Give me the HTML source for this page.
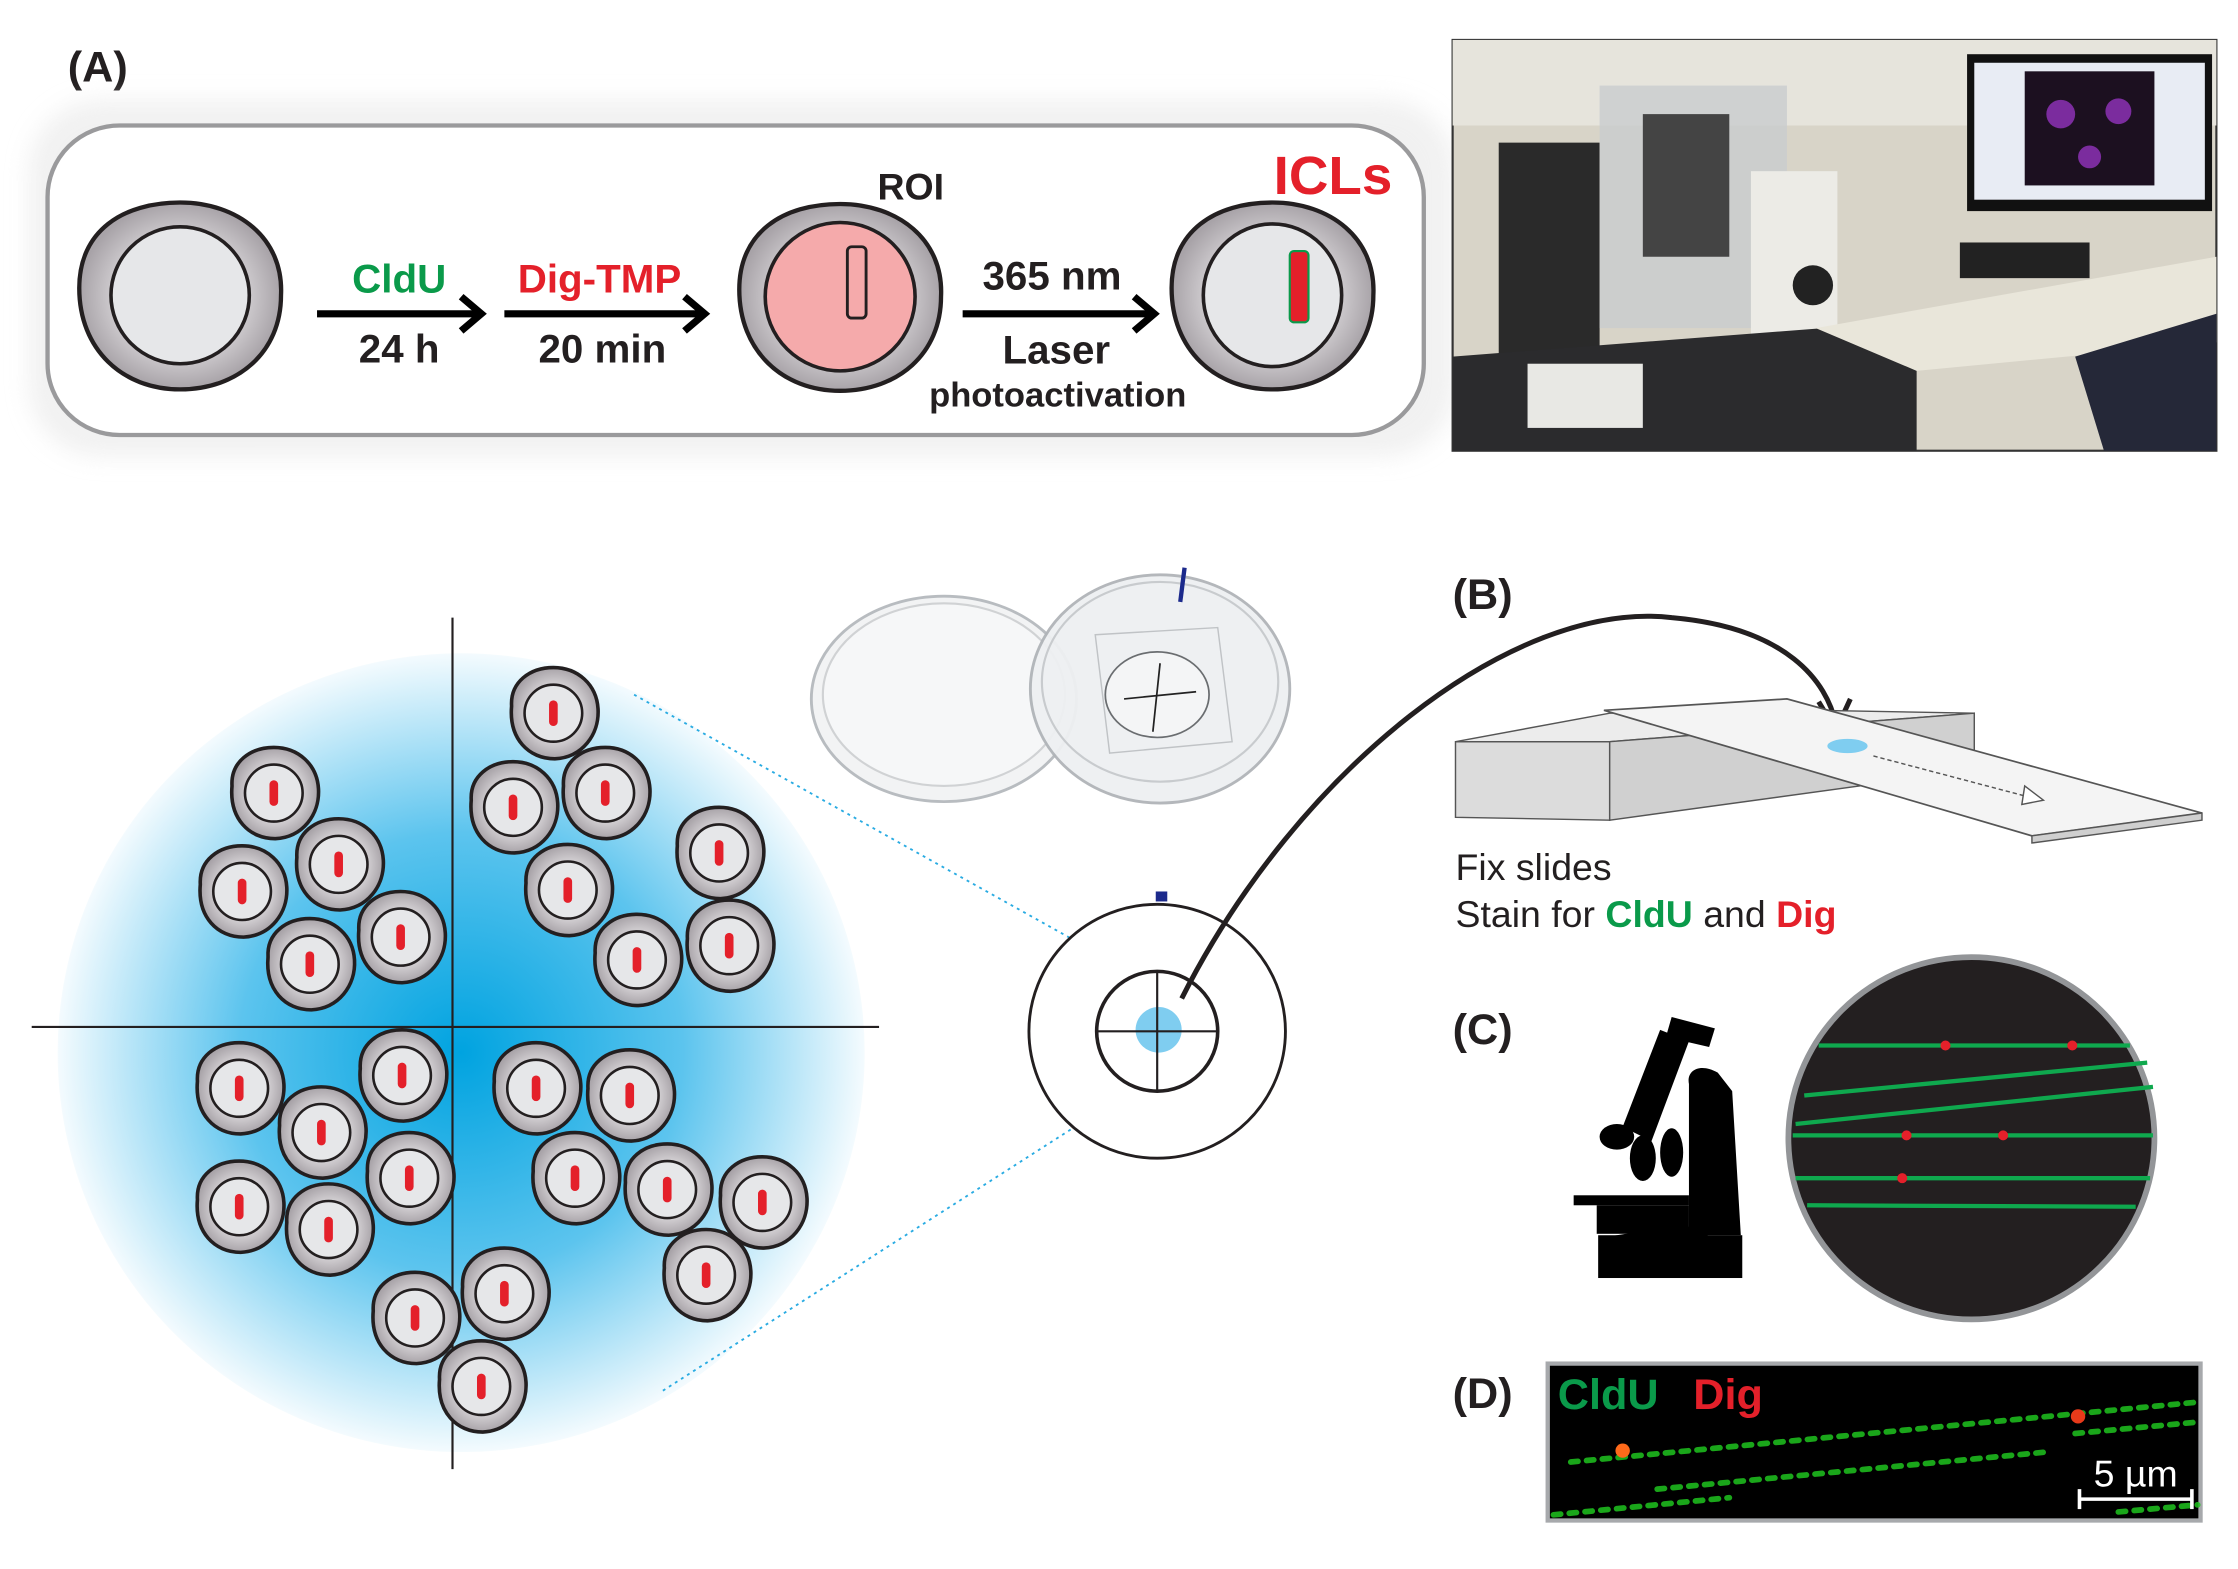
<!DOCTYPE html>
<html><head><meta charset="utf-8"><style>
html,body{margin:0;padding:0;background:#fff;}
svg{display:block;}
text{font-family:"Liberation Sans",Arial,sans-serif;}
</style></head><body>
<svg width="2238" height="1569" viewBox="0 0 1553 1100" preserveAspectRatio="none" xmlns="http://www.w3.org/2000/svg">
<defs>
<radialGradient id="cg" cx="50%" cy="50%" r="50%"><stop offset="60%" stop-color="#d6d3d6"/><stop offset="100%" stop-color="#a8a3a8"/></radialGradient>
<radialGradient id="blue" cx="50%" cy="50%" r="50%"><stop offset="0%" stop-color="#00a3e0"/><stop offset="55%" stop-color="#5cc4ee"/><stop offset="100%" stop-color="#f4fbfe"/></radialGradient>
<filter id="sh" x="-10%" y="-20%" width="120%" height="140%"><feGaussianBlur stdDeviation="8"/></filter>
<g id="sc"><path d="M-29,-5 C-30,-22 -16,-32 0,-32 C17,-32 30,-20 31,-3 C32,15 20,31 1,32 C-17,32 -31,18 -29,-5Z" fill="url(#cg)" stroke="#231f20" stroke-width="2.5"/><circle r="20" fill="#e6e7e9" stroke="#231f20" stroke-width="1.8"/><rect x="-3" y="-9" width="6" height="18" rx="3" fill="#e4202a"/></g>
</defs>

<!-- Panel A -->
<text x="47" y="57" font-size="30" font-weight="bold" fill="#231f20">(A)</text>
<rect x="20" y="70" width="990" height="250" rx="50" fill="#e8e8e8" filter="url(#sh)" opacity="0.6"/>
<rect x="33" y="88" width="955" height="217" rx="50" fill="#fff" stroke="#9a9a9c" stroke-width="3"/>

<g transform="translate(125,207)"><path d="M-70,-5 C-70,-45 -40,-65 0,-65 C40,-65 72,-40 70,0 C70,40 40,66 0,66 C-40,66 -70,38 -70,-5Z" fill="url(#cg)" stroke="#231f20" stroke-width="3"/><ellipse rx="48" ry="48" fill="#e6e7e9" stroke="#231f20" stroke-width="2.5"/></g>
<g transform="translate(583,208)"><path d="M-70,-5 C-70,-45 -40,-65 0,-65 C40,-65 72,-40 70,0 C70,40 40,66 0,66 C-40,66 -70,38 -70,-5Z" fill="url(#cg)" stroke="#231f20" stroke-width="3"/><ellipse rx="52" ry="52" fill="#f5aaab" stroke="#231f20" stroke-width="2.5"/><rect x="5" y="-35" width="13" height="50" rx="3" fill="#f5aaab" stroke="#231f20" stroke-width="2"/></g>
<g transform="translate(883,207)"><path d="M-70,-5 C-70,-45 -40,-65 0,-65 C40,-65 72,-40 70,0 C70,40 40,66 0,66 C-40,66 -70,38 -70,-5Z" fill="url(#cg)" stroke="#231f20" stroke-width="3"/><ellipse rx="48" ry="50" fill="#e6e7e9" stroke="#231f20" stroke-width="2.5"/><rect x="12" y="-31" width="13" height="50" rx="3" fill="#e4202a" stroke="#0a9a4a" stroke-width="1.5"/></g>

<g stroke="#000" stroke-width="5" fill="none">
<line x1="220" y1="220" x2="333" y2="220"/><path d="M320,208 L334,220 L320,232"/>
<line x1="350" y1="220" x2="488" y2="220"/><path d="M475,208 L489,220 L475,232"/>
<line x1="668" y1="220" x2="800" y2="220"/><path d="M787,208 L801,220 L787,232"/>
</g>
<g font-weight="bold" text-anchor="middle">
<text x="277" y="205" font-size="28" fill="#0a9a4a">CldU</text>
<text x="277" y="254" font-size="28" fill="#231f20">24 h</text>
<text x="416" y="205" font-size="28" fill="#e4202a">Dig-TMP</text>
<text x="418" y="254" font-size="28" fill="#231f20">20 min</text>
<text x="632" y="140" font-size="26" fill="#231f20">ROI</text>
<text x="730" y="203" font-size="28" fill="#231f20">365 nm</text>
<text x="733" y="255" font-size="28" fill="#231f20">Laser</text>
<text x="734" y="285" font-size="24" fill="#231f20">photoactivation</text>
<text x="925" y="136" font-size="38" fill="#e4202a">ICLs</text>
</g>

<!-- Photo -->
<g>
<rect x="1008" y="28" width="530" height="288" fill="#d8d4c8" stroke="#333" stroke-width="1.5"/>
<rect x="1008" y="28" width="530" height="60" fill="#e6e4dc"/>
<rect x="1040" y="100" width="70" height="170" fill="#2a2a2a"/>
<rect x="1110" y="60" width="130" height="170" fill="#c9ccce" opacity="0.8"/>
<rect x="1140" y="80" width="60" height="100" fill="#444"/>
<rect x="1215" y="120" width="60" height="125" fill="#ecebe6"/>
<circle cx="1258" cy="200" r="14" fill="#222"/>
<rect x="1365" y="38" width="170" height="110" fill="#111"/>
<rect x="1370" y="44" width="160" height="96" fill="#e8ecf4"/>
<rect x="1405" y="50" width="90" height="80" fill="#1c1020"/>
<circle cx="1430" cy="80" r="10" fill="#7b2c9e"/><circle cx="1470" cy="78" r="9" fill="#7b2c9e"/><circle cx="1450" cy="110" r="8" fill="#7b2c9e"/>
<polygon points="1008,316 1008,250 1330,225 1330,316" fill="#2b2b2d"/>
<polygon points="1260,230 1538,180 1538,240 1330,260" fill="#e9e6da"/>
<rect x="1060" y="255" width="80" height="45" fill="#e8e8e4"/>
<rect x="1360" y="170" width="90" height="25" fill="#222"/>
<polygon points="1440,250 1538,220 1538,316 1460,316" fill="#252838"/>
</g>

<!-- Big field -->
<circle cx="320" cy="738" r="280" fill="url(#blue)"/>
<line x1="314" y1="433" x2="314" y2="1030" stroke="#231f20" stroke-width="1.5"/>
<line x1="22" y1="720" x2="610" y2="720" stroke="#231f20" stroke-width="1.5"/>
<use href="#sc" x="384" y="500"/><use href="#sc" x="190" y="556"/><use href="#sc" x="356" y="566"/><use href="#sc" x="420" y="556"/><use href="#sc" x="499" y="598"/><use href="#sc" x="168" y="625"/><use href="#sc" x="235" y="606"/><use href="#sc" x="394" y="624"/><use href="#sc" x="278" y="657"/><use href="#sc" x="215" y="676"/><use href="#sc" x="442" y="673"/><use href="#sc" x="506" y="663"/><use href="#sc" x="166" y="763"/><use href="#sc" x="279" y="754"/><use href="#sc" x="372" y="763"/><use href="#sc" x="437" y="768"/><use href="#sc" x="223" y="794"/><use href="#sc" x="284" y="826"/><use href="#sc" x="399" y="826"/><use href="#sc" x="463" y="834"/><use href="#sc" x="529" y="843"/><use href="#sc" x="166" y="846"/><use href="#sc" x="228" y="862"/><use href="#sc" x="490" y="894"/><use href="#sc" x="288" y="924"/><use href="#sc" x="350" y="907"/><use href="#sc" x="334" y="972"/>
<line x1="440" y1="487" x2="800" y2="690" stroke="#29abe2" stroke-width="1.3" stroke-dasharray="2,3"/>
<line x1="460" y1="975" x2="800" y2="755" stroke="#29abe2" stroke-width="1.3" stroke-dasharray="2,3"/>

<!-- Petri dishes -->
<ellipse cx="655" cy="490" rx="92" ry="72" fill="#f2f3f4" stroke="#b8bcc0" stroke-width="2"/>
<ellipse cx="655" cy="487" rx="84" ry="64" fill="#f6f7f8" stroke="#d0d2d4" stroke-width="1.5"/>
<ellipse cx="805" cy="483" rx="90" ry="80" fill="#eef0f2" stroke="#b0b4b8" stroke-width="2" opacity="0.95"/>
<ellipse cx="805" cy="478" rx="82" ry="70" fill="none" stroke="#c8cbce" stroke-width="1.5"/>
<polygon points="760,445 845,440 855,520 770,528" fill="none" stroke="#c0c3c6" stroke-width="1"/>
<ellipse cx="803" cy="487" rx="36" ry="30" fill="#f4f5f6" stroke="#6a6d70" stroke-width="1.2"/>
<line x1="780" y1="490" x2="830" y2="485" stroke="#222" stroke-width="1.2"/><line x1="805" y1="465" x2="800" y2="513" stroke="#222" stroke-width="1.2"/>
<line x1="822" y1="398" x2="819" y2="422" stroke="#1c2a8c" stroke-width="3"/>

<!-- small dish -->
<circle cx="803" cy="723" r="89" fill="#fff" stroke="#231f20" stroke-width="2"/>
<circle cx="803" cy="723" r="42" fill="#fff" stroke="#231f20" stroke-width="2.5"/>
<circle cx="804" cy="722" r="16" fill="#7fcdf0"/>
<line x1="762" y1="723" x2="845" y2="723" stroke="#231f20" stroke-width="1.5"/>
<line x1="803" y1="682" x2="803" y2="765" stroke="#231f20" stroke-width="1.5"/>
<rect x="802" y="625" width="8" height="7" fill="#1c2a8c"/>
<path d="M820,700 C900,540 1050,420 1160,433 C1240,440 1268,478 1274,508" fill="none" stroke="#231f20" stroke-width="3.5"/>
<path d="M1262,492 L1274,512 L1284,490" fill="none" stroke="#231f20" stroke-width="3.5"/>

<!-- Panel B -->
<text x="1008" y="427" font-size="30" font-weight="bold" fill="#231f20">(B)</text>
<polygon points="1010,520 1117,520 1117,575 1010,573" fill="#dcdcdc" stroke="#555" stroke-width="1"/>
<polygon points="1010,520 1117,520 1370,500 1260,498 1117,500" fill="#ececec" stroke="#555" stroke-width="1"/>
<polygon points="1117,520 1370,500 1370,540 1117,575" fill="#d0d0d0" stroke="#555" stroke-width="1"/>
<polygon points="1113,498 1240,490 1528,570 1410,586" fill="#f4f4f4" stroke="#555" stroke-width="1.2"/>
<polygon points="1410,586 1528,570 1528,575 1410,591" fill="#cfcfcf" stroke="#555" stroke-width="1"/>
<ellipse cx="1282" cy="523" rx="14" ry="5" fill="#7fcdf0"/>
<line x1="1300" y1="530" x2="1405" y2="558" stroke="#555" stroke-width="1" stroke-dasharray="3,2"/>
<polygon points="1405,551 1418,561 1403,564" fill="#fff" stroke="#555" stroke-width="1"/>
<text x="1010" y="617" font-size="26" fill="#231f20">Fix slides</text>
<text x="1010" y="650" font-size="26" fill="#231f20">Stain for <tspan fill="#0a9a4a" font-weight="bold">CldU</tspan> and <tspan fill="#e4202a" font-weight="bold">Dig</tspan></text>

<!-- Panel C -->
<text x="1008" y="732" font-size="30" font-weight="bold" fill="#231f20">(C)</text>
<g fill="#000">
<rect x="1109" y="866" width="100" height="30"/>
<polygon points="1109,868 1160,860 1185,860 1185,868"/>
<path d="M1172,760 C1170,750 1180,745 1192,752 L1202,765 L1208,866 L1172,866 Z"/>
<rect x="1092" y="838" width="80" height="7"/>
<rect x="1108" y="845" width="64" height="20"/>
<polygon points="1152,722 1172,730 1146,800 1126,790"/>
<polygon points="1160,713 1190,721 1186,734 1156,727"/>
<ellipse cx="1122" cy="797" rx="12" ry="9"/>
<ellipse cx="1140" cy="812" rx="9" ry="16"/>
<ellipse cx="1160" cy="808" rx="8" ry="17"/>
</g>
<circle cx="1368" cy="798" r="127" fill="#231f20" stroke="#939598" stroke-width="4"/>
<g stroke="#0fa84e" stroke-width="3">
<line x1="1262" y1="733" x2="1478" y2="733"/>
<line x1="1252" y1="768" x2="1490" y2="745"/>
<line x1="1246" y1="788" x2="1494" y2="762"/>
<line x1="1244" y1="796" x2="1494" y2="796"/>
<line x1="1246" y1="826" x2="1492" y2="826"/>
<line x1="1254" y1="845" x2="1482" y2="846"/>
</g>
<g fill="#e4202a"><circle cx="1350" cy="733" r="3.5"/><circle cx="1438" cy="733" r="3.5"/><circle cx="1323" cy="796" r="3.5"/><circle cx="1390" cy="796" r="3.5"/><circle cx="1320" cy="826" r="3.5"/></g>

<!-- Panel D -->
<text x="1008" y="987" font-size="30" font-weight="bold" fill="#231f20">(D)</text>
<rect x="1074" y="956" width="453" height="110" fill="#000" stroke="#a7a9ac" stroke-width="3"/>
<g stroke="#1fc41f" stroke-width="4" stroke-dasharray="5,6" stroke-linecap="round" opacity="0.85">
<line x1="1090" y1="1025" x2="1525" y2="983"/>
<line x1="1150" y1="1044" x2="1420" y2="1018"/>
<line x1="1440" y1="1005" x2="1525" y2="997"/>
<line x1="1078" y1="1062" x2="1200" y2="1050"/>
<line x1="1470" y1="1060" x2="1525" y2="1055"/>
</g>
<circle cx="1126" cy="1017" r="5" fill="#ff6a1a"/>
<circle cx="1442" cy="993" r="5" fill="#e83a1a"/>
<text x="1081" y="988" font-size="30" font-weight="bold" fill="#0a9a4a">CldU</text>
<text x="1175" y="988" font-size="30" font-weight="bold" fill="#e4202a">Dig</text>
<text x="1482" y="1042" font-size="26" fill="#fff" text-anchor="middle">5 µm</text>
<g stroke="#fff" stroke-width="2.5"><line x1="1443" y1="1051" x2="1521" y2="1051"/><line x1="1443" y1="1044" x2="1443" y2="1058"/><line x1="1521" y1="1044" x2="1521" y2="1058"/></g>
</svg>
</body></html>
